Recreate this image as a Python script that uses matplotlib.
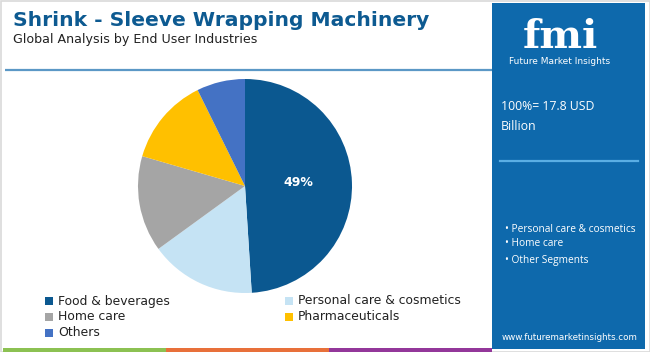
import matplotlib
matplotlib.use("Agg")
import matplotlib.pyplot as plt
from matplotlib.patches import Rectangle
import numpy as np

categories = ["Food & beverages", "Personal care & cosmetics", "Home care", "Pharmaceuticals", "Others"]
values = [49, 16, 14.5, 13.2, 7.3]
colors = ["#0b5890", "#c5e3f4", "#a5a5a5", "#ffc000", "#4472c4"]
label_text = "49%"
bullets = ["Personal care & cosmetics", "Home care", "Other Segments"]

W, H = 650, 352
fig = plt.figure(figsize=(W / 100, H / 100), dpi=100)
fig.patch.set_facecolor("white")

def px(x, y):
    return x / W, 1 - y / H

bg = fig.add_axes([0, 0, 1, 1])
bg.set_xlim(0, W)
bg.set_ylim(H, 0)
bg.axis("off")

# outer border
bg.add_patch(Rectangle((0.5, 0.5), W - 1, H - 1, fill=False, ec="#d9d9d9", lw=1.2))
# top separator line
bg.plot([5, 492], [69.5, 69.5], color="#5b98c6", lw=1.6, solid_capstyle="butt")
# right panel
bg.add_patch(Rectangle((492, 3), 153, 346, color="#0e69ac", lw=0))
bg.plot([500, 638], [161, 161], color="#5aaee4", lw=1.6)
# bottom colour stripe
bg.add_patch(Rectangle((3, 348), 163, 4, color="#8cc152", lw=0))
bg.add_patch(Rectangle((166, 348), 163, 4, color="#e8703a", lw=0))
bg.add_patch(Rectangle((329, 348), 163, 4, color="#93379a", lw=0))

# titles
fig.text(*px(13, 20), "Shrink - Sleeve Wrapping Machinery", fontsize=14.6, fontweight="bold",
         color="#0d5a91", family="DejaVu Sans", va="center", ha="left")
fig.text(*px(13, 40), "Global Analysis by End User Industries", fontsize=9.1,
         color="#222222", family="DejaVu Sans", va="center", ha="left")

# logo
fig.text(*px(560, 48), "fmi", fontsize=29, fontweight="bold", color="white",
         family="DejaVu Serif", va="baseline", ha="center")
fig.text(*px(560, 62), "Future Market Insights", fontsize=6.5, color="white",
         family="DejaVu Sans", va="center", ha="center")

# right panel text
fig.text(*px(501, 107), "100%= 17.8 USD", fontsize=8.8, color="white",
         family="Open Sans", va="center", ha="left")
fig.text(*px(501, 127), "Billion", fontsize=8.8, color="white",
         family="Open Sans", va="center", ha="left")
for i, b in enumerate(bullets):
    y = [229, 243, 260][i]
    fig.text(*px(505, y), "\u2022 " + b, fontsize=7.3, color="white",
             family="Open Sans", va="center", ha="left")
fig.text(*px(570, 337), "www.futuremarketinsights.com", fontsize=6.3, color="white",
         family="DejaVu Sans", va="center", ha="center")

# pie
cx, cy, r = 245, 186, 107
ax = fig.add_axes([(cx - r) / W, (H - cy - r) / H, 2 * r / W, 2 * r / H])
wedges, _ = ax.pie(values, colors=colors, startangle=90, counterclock=False,
                   wedgeprops=dict(linewidth=0))
ax.set_xlim(-1, 1)
ax.set_ylim(-1, 1)
ax.set_aspect("equal")
theta = np.deg2rad(90 - 360 * values[0] / sum(values) / 2)
ax.text(0.5 * np.cos(theta), 0.5 * np.sin(theta) + 0.02, label_text, color="white",
        fontsize=9, fontweight="bold", ha="center", va="center", family="DejaVu Sans")

# legend
pos = [(45, 301), (285, 301), (45, 317), (285, 317), (45, 333)]
for (x, y), c, lab in zip(pos, colors, categories):
    bg.add_patch(Rectangle((x, y - 4), 8, 8, color=c, lw=0))
    fig.text(*px(x + 13, y), lab, fontsize=8.9, color="#222222",
             family="DejaVu Sans", va="center", ha="left")

fig.savefig("out.png", dpi=100, facecolor="white")
